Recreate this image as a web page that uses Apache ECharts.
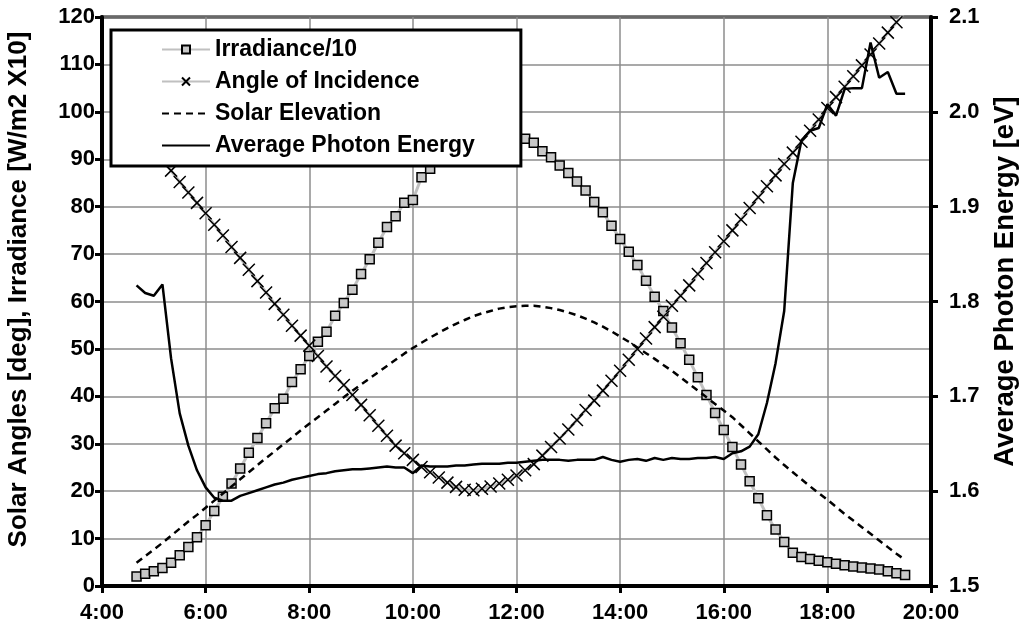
<!DOCTYPE html>
<html>
<head>
<meta charset="utf-8">
<script src="https://cdn.jsdelivr.net/npm/echarts@6/dist/echarts.min.js"></script>
<style>
html,body{margin:0;padding:0;background:#fff;}
#chart{width:1022px;height:637px;}
</style>
</head>
<body>
<div id="chart"></div>
<script>
// ---- data (10-minute samples) ----
const times = ['4:40','4:50','5:00','5:10','5:20','5:30','5:40','5:50',
'6:00','6:10','6:20','6:30','6:40','6:50','7:00','7:10','7:20','7:30','7:40','7:50',
'8:00','8:10','8:20','8:30','8:40','8:50','9:00','9:10','9:20','9:30','9:40','9:50',
'10:00','10:10','10:20','10:30','10:40','10:50','11:00','11:10','11:20','11:30','11:40','11:50',
'12:00','12:10','12:20','12:30','12:40','12:50','13:00','13:10','13:20','13:30','13:40','13:50',
'14:00','14:10','14:20','14:30','14:40','14:50','15:00','15:10','15:20','15:30','15:40','15:50',
'16:00','16:10','16:20','16:30','16:40','16:50','17:00','17:10','17:20','17:30','17:40','17:50',
'18:00','18:10','18:20','18:30','18:40','18:50','19:00','19:10','19:20','19:30'];

const irradiance10 = [2.0,2.6,3.1,3.8,4.9,6.5,8.2,10.3,
12.8,15.8,18.8,21.6,24.8,28.1,31.2,34.3,37.5,39.5,43.0,45.7,
48.5,51.5,53.6,57.0,59.7,62.5,65.8,68.9,72.4,75.7,78.0,80.8,
81.4,86.2,88.0,89.5,90.8,91.9,92.8,93.5,94.0,94.4,94.6,94.6,
94.5,94.3,93.5,91.7,90.4,88.7,87.1,85.3,83.4,81.0,78.8,76.0,
73.2,70.5,67.7,64.4,61.0,58.0,54.5,51.2,47.7,44.0,40.3,36.5,
32.9,29.3,25.6,22.1,18.5,14.9,11.9,9.3,7.0,6.1,5.7,5.3,
5.0,4.7,4.4,4.1,3.9,3.7,3.5,3.1,2.7,2.3];

const angleOfIncidence = [97.2,94.8,92.4,90.0,87.6,85.2,83.0,80.8,
78.6,76.2,73.9,71.5,69.2,66.7,64.3,61.9,59.5,57.2,54.9,52.8,
50.7,48.5,46.3,44.3,42.4,40.3,38.2,36.0,33.8,31.7,29.6,28.0,
26.6,25.1,24.0,22.9,21.8,20.9,20.3,20.2,20.5,21.0,21.6,22.4,
23.3,24.4,25.7,27.5,29.3,31.1,33.0,35.0,37.1,39.1,41.2,43.3,
45.4,47.7,50.0,52.2,54.6,56.8,59.1,61.2,63.4,65.8,68.1,70.4,
72.7,75.0,77.3,79.7,82.0,84.3,86.6,89.0,91.4,93.7,96.0,98.4,
100.8,103.1,105.3,107.5,109.8,112.1,114.4,116.7,118.9,121.1];

const solarElevation = [4.9,6.3,7.7,9.1,10.6,12.1,13.6,15.0,
16.5,18.0,19.5,21.0,22.5,24.0,25.5,27.0,28.4,29.9,31.3,32.8,
34.2,35.6,37.0,38.4,39.8,41.2,42.5,43.8,45.1,46.4,47.7,49.0,
50.2,51.3,52.4,53.4,54.4,55.3,56.1,56.9,57.5,58.0,58.5,58.8,
59.0,59.1,59.1,58.9,58.6,58.2,57.7,57.1,56.4,55.6,54.7,53.7,
52.6,51.5,50.3,49.1,47.9,46.6,45.4,44.0,42.6,41.2,39.8,38.4,
37.0,35.6,33.9,32.2,30.5,28.8,27.1,25.5,24.0,22.5,21.0,19.6,
18.2,16.7,15.2,13.8,12.4,11.0,9.6,8.2,6.8,5.5];

const photonEnergy = [1.817,1.809,1.806,1.818,1.740,1.682,1.648,1.622,
1.604,1.593,1.590,1.590,1.595,1.598,1.601,1.604,1.607,1.609,1.612,1.614,
1.616,1.618,1.619,1.621,1.622,1.623,1.623,1.624,1.625,1.626,1.625,1.625,
1.619,1.627,1.626,1.626,1.626,1.627,1.627,1.628,1.629,1.629,1.629,1.630,
1.630,1.631,1.632,1.633,1.633,1.633,1.632,1.633,1.633,1.633,1.636,1.633,
1.631,1.633,1.634,1.632,1.635,1.633,1.635,1.634,1.634,1.635,1.635,1.636,
1.634,1.640,1.642,1.647,1.660,1.693,1.735,1.790,1.925,1.970,1.980,1.983,
2.008,1.996,2.024,2.025,2.025,2.073,2.036,2.042,2.019,2.019];

const seriesNames = ['Irradiance/10','Angle of Incidence','Solar Elevation','Average Photon Energy'];
const xTickLabels = ['4:00','6:00','8:00','10:00','12:00','14:00','16:00','18:00','20:00'];
const leftAxisTitle = 'Solar Angles [deg], Irradiance [W/m2 X10]';
const rightAxisTitle = 'Average Photon Energy [eV]';

// ---- helpers ----
function toHours(s){ const p = s.split(':'); return +p[0] + (+p[1])/60; }
function pairs(vals){ return times.map((t,i)=>[toHours(t), vals[i]]); }

const FONT = '"Liberation Sans", Arial, sans-serif';
const chart = echarts.init(document.getElementById('chart'), null, {renderer:'canvas'});

const axisCommon = {
  axisLine:{show:true, onZero:false, lineStyle:{color:'#000', width:4}},
  axisTick:{show:true, inside:false, length:7, lineStyle:{color:'#000', width:3}},
  axisLabel:{color:'#000', fontFamily:FONT, fontWeight:'bold', fontSize:22}
};

chart.setOption({
  animation:false,
  backgroundColor:'#fff',
  grid:{left:102, right:91, top:17, bottom:51, containLabel:false, outerBoundsMode:'none',
        show:true, borderColor:'#000', borderWidth:3, backgroundColor:'transparent'},
  legend:{
    data:[
      {name:seriesNames[0]},
      {name:seriesNames[1]},
      {name:seriesNames[2], itemStyle:{opacity:0}},
      {name:seriesNames[3], itemStyle:{opacity:0}}
    ],
    orient:'vertical', left:111, top:30,
    backgroundColor:'#fff', borderColor:'#000', borderWidth:3, borderRadius:0,
    padding:[8,46,9,50], itemGap:9, itemWidth:48, itemHeight:10,
    textStyle:{color:'#000', fontFamily:FONT, fontWeight:'bold', fontSize:23, lineHeight:22}
  },
  xAxis:Object.assign({}, axisCommon, {
    type:'value', min:4, max:20, interval:2,
    splitLine:{show:true, lineStyle:{color:'#8c8c8c', width:1.5}},
    axisLabel:Object.assign({}, axisCommon.axisLabel, {margin:16,
      formatter:function(v){ const i = Math.round((v-4)/2); return xTickLabels[i] || ''; }})
  }),
  yAxis:[
    Object.assign({}, axisCommon, {
      type:'value', min:0, max:120, interval:10, position:'left',
      name:leftAxisTitle, nameLocation:'middle', nameGap:70, nameRotate:90,
      nameTextStyle:{color:'#000', fontFamily:FONT, fontWeight:'bold', fontSize:26, padding:[0,0,0,24]},
      splitLine:{show:true, lineStyle:{color:'#8c8c8c', width:1.5}},
      axisLabel:Object.assign({}, axisCommon.axisLabel, {margin:7})
    }),
    Object.assign({}, axisCommon, {
      type:'value', min:1.5, max:2.1, interval:0.1, position:'right',
      name:rightAxisTitle, nameLocation:'middle', nameGap:60, nameRotate:90,
      nameTextStyle:{color:'#000', fontFamily:FONT, fontWeight:'bold', fontSize:27.5, padding:[0,0,0,40]},
      splitLine:{show:false},
      axisLabel:Object.assign({}, axisCommon.axisLabel, {margin:18, formatter:function(v){return v.toFixed(1);}})
    })
  ],
  series:[
    {
      name:seriesNames[0], type:'line', yAxisIndex:0, data:pairs(irradiance10),
      symbol:'rect', symbolSize:9, showSymbol:true,
      lineStyle:{color:'#c0c0c0', width:3},
      itemStyle:{color:'#c8c8c8', borderColor:'#000', borderWidth:1.5},
      emphasis:{disabled:true}, z:2
    },
    {
      name:seriesNames[1], type:'line', yAxisIndex:0, data:pairs(angleOfIncidence),
      symbol:'path://M0,0L10,10M10,0L0,10', symbolSize:12, showSymbol:true,
      lineStyle:{color:'#c0c0c0', width:3},
      itemStyle:{color:'rgba(0,0,0,0)', borderColor:'#000', borderWidth:1.5},
      emphasis:{disabled:true}, z:3
    },
    {
      name:seriesNames[2], type:'line', yAxisIndex:0, data:pairs(solarElevation),
      symbol:'none', showSymbol:false,
      lineStyle:{color:'#000', width:2.5, type:[7,5]},
      itemStyle:{color:'#000'},
      emphasis:{disabled:true}, z:4
    },
    {
      name:seriesNames[3], type:'line', yAxisIndex:1, data:pairs(photonEnergy),
      symbol:'none', showSymbol:false,
      lineStyle:{color:'#000', width:2.5},
      itemStyle:{color:'#000'},
      emphasis:{disabled:true}, z:5
    }
  ]
});
</script>
</body>
</html>
